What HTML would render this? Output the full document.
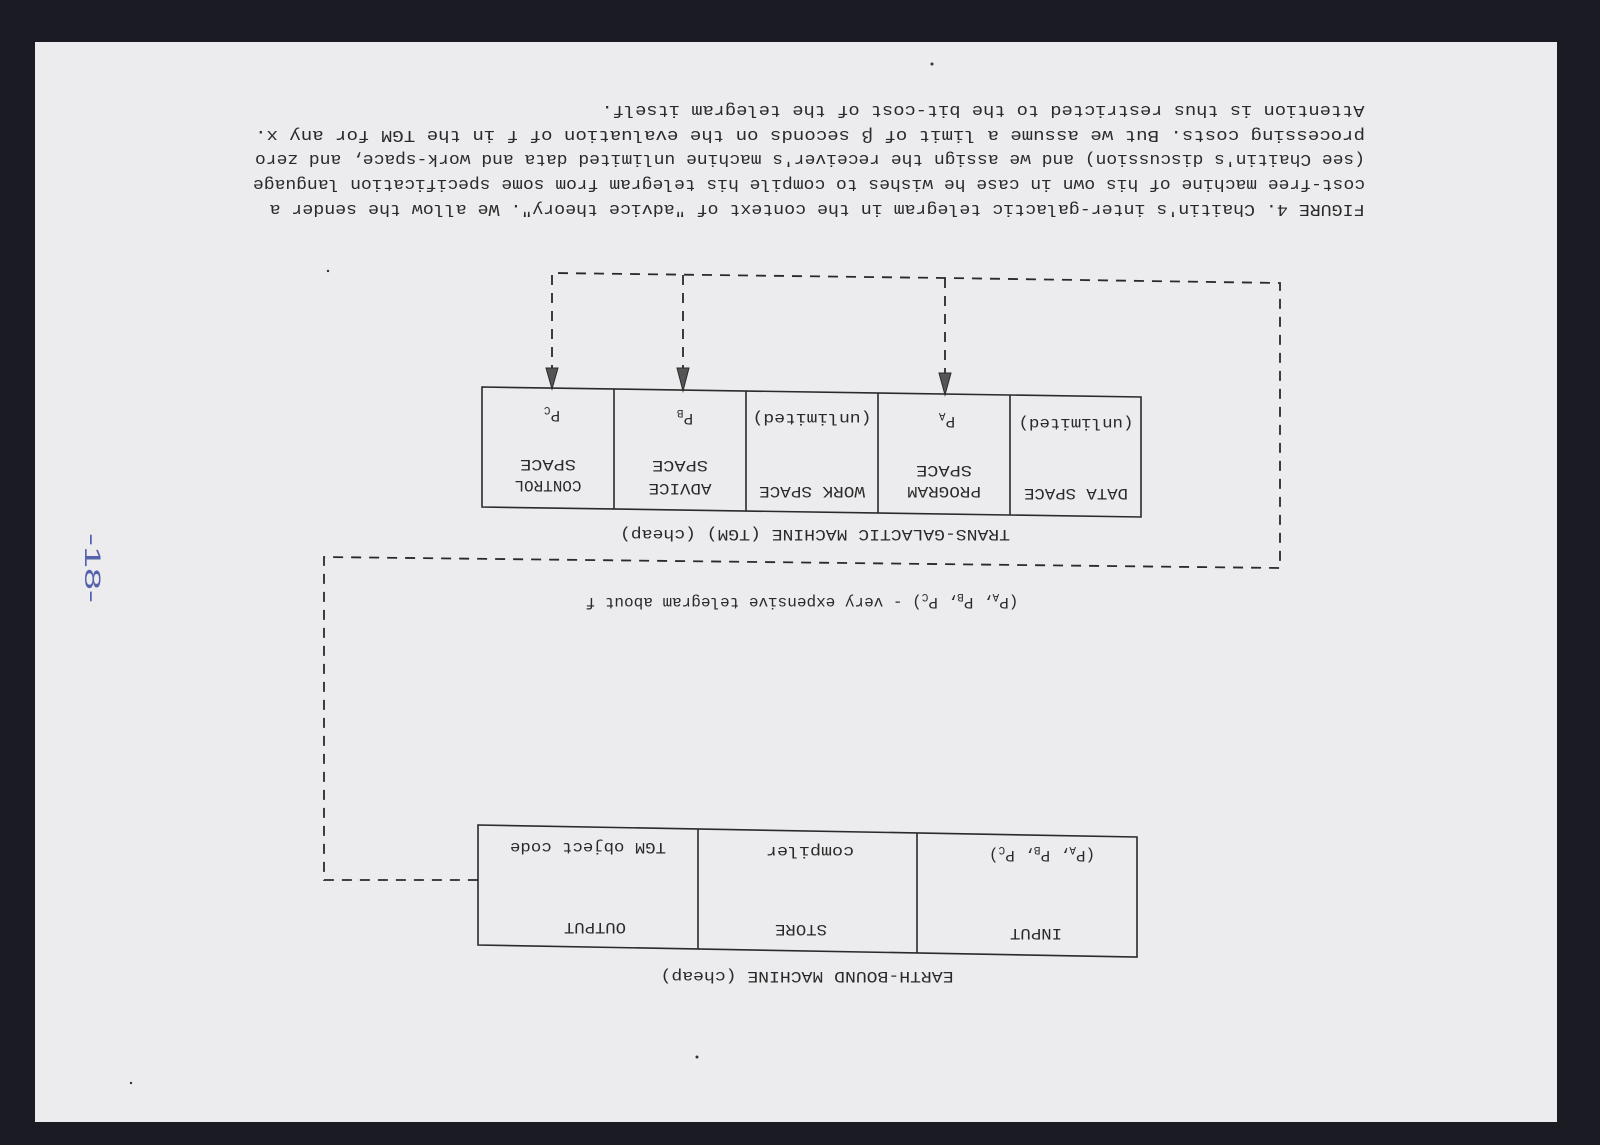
<!DOCTYPE html>
<html><head><meta charset="utf-8"><style>
html,body{margin:0;padding:0;background:#1b1b24;}
svg{display:block}
text{font-family:"Liberation Mono",monospace;fill:#2a2a2a;}
</style></head><body>
<svg width="1600" height="1145" viewBox="0 0 1600 1145" xmlns="http://www.w3.org/2000/svg">
<rect width="1600" height="1145" fill="#1b1b24"/>
<rect x="35" y="42" width="1522" height="1080" fill="#ececee"/>
<g stroke="#2a2a2a" fill="none" stroke-width="1.6">
  <polygon points="482,387 1141,397 1141,517 482,507"/>
  <line x1="614" y1="389" x2="614" y2="509"/>
  <line x1="746" y1="391" x2="746" y2="511"/>
  <line x1="878" y1="393" x2="878" y2="513"/>
  <line x1="1010" y1="395" x2="1010" y2="515"/>
  <polygon points="478,825 1137,837 1137,957 478,945"/>
  <line x1="698" y1="829" x2="698" y2="949"/>
  <line x1="917" y1="833" x2="917" y2="953"/>
  <g stroke-dasharray="10,8" stroke-width="1.8">
    <polyline points="552,375 552,273 945,278 1280,283 1280,568 324,557 324,880 478,880"/>
    <line x1="683" y1="275" x2="683" y2="375"/>
    <line x1="945" y1="278" x2="945" y2="380"/>
  </g>
</g>
<g fill="#555" stroke="#2a2a2a" stroke-width="1">
  <polygon points="546,368 558,368 552,389"/>
  <polygon points="677,368 689,368 683,391"/>
  <polygon points="939,373 951,373 945,395"/>
</g>
<g font-size="17">
<text x="817" y="217" transform="rotate(180 817 211)" text-anchor="middle" textLength="1095" lengthAdjust="spacingAndGlyphs">FIGURE 4. Chaitin's inter-galactic telegram in the context of "advice theory". We allow the sender a</text>
<text x="809" y="192" transform="rotate(180 809 186)" text-anchor="middle" textLength="1112" lengthAdjust="spacingAndGlyphs">cost-free machine of his own in case he wishes to compile his telegram from some specification language</text>
<text x="810" y="167" transform="rotate(180 810 161)" text-anchor="middle" textLength="1110" lengthAdjust="spacingAndGlyphs">(see Chaitin's discussion) and we assign the receiver's machine unlimited data and work-space, and zero</text>
<text x="810" y="143" transform="rotate(180 810 137)" text-anchor="middle" textLength="1110" lengthAdjust="spacingAndGlyphs">processing costs.  But we assume a limit of β seconds on the evaluation of  f  in the TGM for any x.</text>
<text x="983" y="118" transform="rotate(180 983 112)" text-anchor="middle" textLength="763" lengthAdjust="spacingAndGlyphs">Attention is thus restricted to the bit-cost of the telegram itself.</text>
</g>
<g font-size="16">
<text x="815" y="542" transform="rotate(180 815 536)" text-anchor="middle" textLength="390" lengthAdjust="spacingAndGlyphs">TRANS-GALACTIC MACHINE (TGM) (cheap)</text>
<text x="1076" y="501" transform="rotate(180 1076 495)" text-anchor="middle" textLength="104" lengthAdjust="spacingAndGlyphs">DATA SPACE</text>
<text x="1076" y="431" transform="rotate(180 1076 425)" text-anchor="middle" textLength="115" lengthAdjust="spacingAndGlyphs">(unlimited)</text>
<text x="944" y="499" transform="rotate(180 944 493)" text-anchor="middle" textLength="74" lengthAdjust="spacingAndGlyphs">PROGRAM</text>
<text x="944" y="478" transform="rotate(180 944 472)" text-anchor="middle" textLength="56" lengthAdjust="spacingAndGlyphs">SPACE</text>
<text x="947" y="429" transform="rotate(180 947 423)" text-anchor="middle">P<tspan font-size="11" dy="4">A</tspan></text>
<text x="812" y="499" transform="rotate(180 812 493)" text-anchor="middle" textLength="106" lengthAdjust="spacingAndGlyphs">WORK SPACE</text>
<text x="812" y="426" transform="rotate(180 812 420)" text-anchor="middle" textLength="119" lengthAdjust="spacingAndGlyphs">(unlimited)</text>
<text x="680" y="496" transform="rotate(180 680 490)" text-anchor="middle" textLength="63" lengthAdjust="spacingAndGlyphs">ADVICE</text>
<text x="680" y="473" transform="rotate(180 680 467)" text-anchor="middle" textLength="56" lengthAdjust="spacingAndGlyphs">SPACE</text>
<text x="685" y="426" transform="rotate(180 685 420)" text-anchor="middle">P<tspan font-size="11" dy="4">B</tspan></text>
<text x="548" y="493" transform="rotate(180 548 487)" text-anchor="middle" textLength="67" lengthAdjust="spacingAndGlyphs">CONTROL</text>
<text x="548" y="472" transform="rotate(180 548 466)" text-anchor="middle" textLength="56" lengthAdjust="spacingAndGlyphs">SPACE</text>
<text x="552" y="423" transform="rotate(180 552 417)" text-anchor="middle">P<tspan font-size="11" dy="4">C</tspan></text>
<text x="802" y="610" transform="rotate(180 802 604)" text-anchor="middle">(P<tspan font-size="11" dy="4">A</tspan><tspan dy="-4">, P</tspan><tspan font-size="11" dy="4">B</tspan><tspan dy="-4">, P</tspan><tspan font-size="11" dy="4">C</tspan><tspan dy="-4">) - very expensive telegram about f</tspan></text>
<text x="807" y="984" transform="rotate(180 807 978)" text-anchor="middle" textLength="293" lengthAdjust="spacingAndGlyphs">EARTH-BOUND MACHINE (cheap)</text>
<text x="1036" y="941" transform="rotate(180 1036 935)" text-anchor="middle" textLength="52" lengthAdjust="spacingAndGlyphs">INPUT</text>
<text x="801" y="937" transform="rotate(180 801 931)" text-anchor="middle" textLength="52" lengthAdjust="spacingAndGlyphs">STORE</text>
<text x="595" y="935" transform="rotate(180 595 929)" text-anchor="middle" textLength="62" lengthAdjust="spacingAndGlyphs">OUTPUT</text>
<text x="1042" y="863" transform="rotate(180 1042 857)" text-anchor="middle">(P<tspan font-size="11" dy="4">A</tspan><tspan dy="-4">, P</tspan><tspan font-size="11" dy="4">B</tspan><tspan dy="-4">, P</tspan><tspan font-size="11" dy="4">C</tspan><tspan dy="-4">)</tspan></text>
<text x="810" y="859" transform="rotate(180 810 853)" text-anchor="middle" textLength="88" lengthAdjust="spacingAndGlyphs">compiler</text>
<text x="588" y="855" transform="rotate(180 588 849)" text-anchor="middle" textLength="156" lengthAdjust="spacingAndGlyphs">TGM object code</text>
</g>
<text x="93" y="576" transform="rotate(90 93 568)" text-anchor="middle" font-size="22" style="fill:#5563ad;font-family:'Liberation Sans',sans-serif;font-weight:normal" textLength="70" lengthAdjust="spacingAndGlyphs">-18-</text>
<g fill="#333"><circle cx="932" cy="64" r="1.5"/><circle cx="489" cy="137" r="1.2"/><circle cx="697" cy="1057" r="1.5"/><circle cx="131" cy="1083" r="1.2"/><circle cx="328" cy="271" r="1.2"/></g>
</svg>
</body></html>
